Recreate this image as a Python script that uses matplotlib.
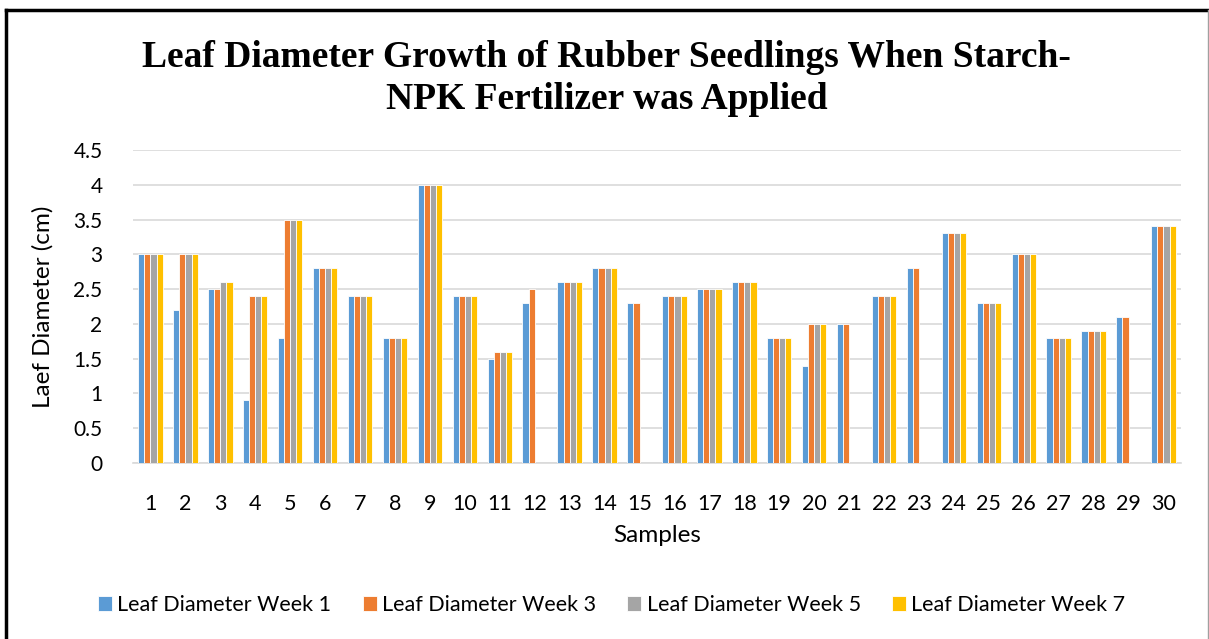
import numpy as np
import matplotlib
matplotlib.use("Agg")
import matplotlib.pyplot as plt
from matplotlib.lines import Line2D

# data (nan = no bar drawn)
samples = list(range(1, 31))
week1 = [3, 2.2, 2.5, 0.9, 1.8, 2.8, 2.4, 1.8, 4, 2.4,
         1.5, 2.3, 2.6, 2.8, 2.3, 2.4, 2.5, 2.6, 1.8, 1.4,
         2, 2.4, 2.8, 3.3, 2.3, 3, 1.8, 1.9, 2.1, 3.4]
week3 = [3, 3, 2.5, 2.4, 3.5, 2.8, 2.4, 1.8, 4, 2.4,
         1.6, 2.5, 2.6, 2.8, 2.3, 2.4, 2.5, 2.6, 1.8, 2,
         2, 2.4, 2.8, 3.3, 2.3, 3, 1.8, 1.9, 2.1, 3.4]
week5 = [3, 3, 2.6, 2.4, 3.5, 2.8, 2.4, 1.8, 4, 2.4,
         1.6, np.nan, 2.6, 2.8, np.nan, 2.4, 2.5, 2.6, 1.8, 2,
         np.nan, 2.4, np.nan, 3.3, 2.3, 3, 1.8, 1.9, np.nan, 3.4]
week7 = [3, 3, 2.6, 2.4, 3.5, 2.8, 2.4, 1.8, 4, 2.4,
         1.6, np.nan, 2.6, 2.8, np.nan, 2.4, 2.5, 2.6, 1.8, 2,
         np.nan, 2.4, np.nan, 3.3, 2.3, 3, 1.8, 1.9, np.nan, 3.4]
series = {
    "Leaf Diameter Week 1": week1,
    "Leaf Diameter Week 3": week3,
    "Leaf Diameter Week 5": week5,
    "Leaf Diameter Week 7": week7,
}
colors = ["#5B9BD5", "#ED7D31", "#A5A5A5", "#FFC000"]
yticks = [0, 0.5, 1, 1.5, 2, 2.5, 3, 3.5, 4, 4.5]

plt.rcParams["font.family"] = ["Lato", "DejaVu Sans"]

fig = plt.figure(figsize=(12.09, 6.39), dpi=100)
ax = fig.add_axes([0.110, 0.2754, 0.8668, 0.4899])

x = np.arange(len(samples)) + 1
w = 0.175
for i, ((name, vals), c) in enumerate(zip(series.items(), colors)):
    ax.bar(x + (i - 1.5) * w, vals, width=w, color=c, edgecolor="white",
           linewidth=0.6, label=name, zorder=3)

ax.set_xlim(0.5, 30.5)
ax.set_ylim(0, 4.5)
ax.set_yticks(yticks)
ax.set_yticklabels([f"{v:g}" for v in yticks], fontsize=15)
ax.set_xticks(x)
ax.set_xticklabels([str(s) for s in samples], fontsize=15.5)
ax.tick_params(axis="x", length=0, pad=22)
ax.tick_params(axis="y", length=0, pad=22)
for s in ["top", "right", "left"]:
    ax.spines[s].set_visible(False)
ax.spines["bottom"].set_color("#D9D9D9")
ax.spines["bottom"].set_linewidth(1.2)
ax.grid(axis="y", color="#D9D9D9", linewidth=1.2, zorder=0)

ax.set_xlabel("Samples", fontsize=17.5, labelpad=8)
ax.set_ylabel("Laef Diameter (cm)", fontsize=17.5, labelpad=14)

fig.text(0.502, 0.877, "Leaf Diameter Growth of Rubber Seedlings When Starch-\nNPK Fertilizer was Applied",
         ha="center", va="center", fontsize=27, fontweight="bold",
         family="Liberation Serif", linespacing=1.27)

fig.legend(loc="center", bbox_to_anchor=(0.506, 0.053), ncol=4, frameon=False,
           fontsize=15.5, handlelength=0.65, handleheight=0.65, handletextpad=0.25,
           columnspacing=1.45)

# outer frame
fig.add_artist(Line2D([6 / 1209, 1], [1 - 10 / 639, 1 - 10 / 639],
                      transform=fig.transFigure, color="black", linewidth=2.5))
fig.add_artist(Line2D([6 / 1209, 6 / 1209], [0, 1 - 10 / 639],
                      transform=fig.transFigure, color="black", linewidth=2.5))
fig.add_artist(Line2D([1207.5 / 1209, 1207.5 / 1209], [0, 1 - 10 / 639],
                      transform=fig.transFigure, color="#A0A0A0", linewidth=1))

fig.savefig("out.png", dpi=100)
